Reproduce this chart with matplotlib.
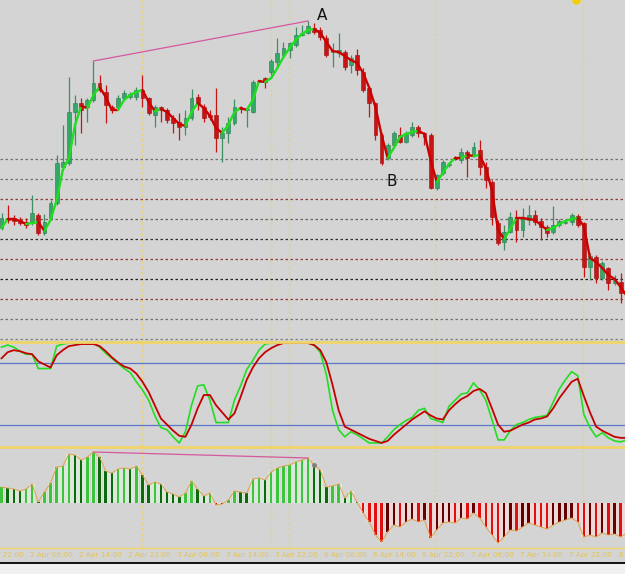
import numpy as np
import matplotlib

matplotlib.use("Agg")
import matplotlib.pyplot as plt
from matplotlib.collections import LineCollection
from matplotlib.lines import Line2D
from matplotlib.patches import Rectangle
from matplotlib.transforms import blended_transform_factory

# Hourly candles read off the screenshot. Price values are chart levels measured
# down from the top edge of the price pane (so the price axis is inverted).
OPEN = [228, 218, 218, 220, 222, 223, 215, 233, 218, 203, 167, 163, 112, 103, 107, 100, 83, 92, 107, 107,
        98, 97, 97, 90, 98, 115, 107, 110, 118, 122, 127, 118, 97, 107, 115, 115, 138, 133, 123, 108,
        110, 112, 81, 78, 72, 62, 55, 50, 45, 35, 33, 28, 30, 38, 52, 53, 52, 65, 55, 72,
        88, 103, 135, 158, 145, 135, 142, 135, 127, 133, 135, 188, 173, 165, 158, 160, 152, 155, 150, 167,
        182, 223, 242, 232, 217, 230, 220, 215, 221, 227, 232, 225, 223, 222, 216, 223, 267, 257, 278, 268,
        283, 282, 293]
HIGH = [213, 205, 215, 217, 218, 195, 213, 214, 200, 155, 125, 77, 95, 98, 98, 61, 75, 85, 105, 95,
        90, 92, 87, 75, 97, 105, 106, 108, 115, 113, 110, 89, 94, 104, 110, 88, 127, 117, 99, 106,
        107, 80, 80, 77, 59, 38, 42, 42, 27, 25, 21, 23, 27, 35, 43, 33, 50, 55, 49, 68,
        87, 102, 133, 143, 131, 127, 131, 122, 125, 132, 133, 174, 160, 163, 156, 148, 150, 142, 140, 162,
        180, 220, 225, 212, 210, 208, 205, 210, 218, 225, 206, 219, 220, 213, 214, 222, 253, 255, 261, 267,
        275, 273, 283]
LOW = [230, 223, 225, 225, 228, 225, 235, 235, 220, 205, 168, 165, 145, 133, 122, 102, 92, 123, 113, 110,
       100, 99, 100, 107, 115, 127, 122, 123, 133, 140, 135, 120, 110, 122, 120, 152, 162, 143, 125, 113,
       127, 113, 82, 88, 75, 67, 57, 58, 47, 36, 34, 34, 40, 57, 67, 57, 70, 73, 75, 92,
       117, 140, 165, 160, 147, 143, 143, 137, 137, 145, 189, 190, 175, 167, 160, 163, 177, 157, 175, 188,
       225, 245, 250, 233, 242, 237, 225, 225, 240, 237, 234, 227, 224, 225, 227, 277, 280, 283, 280, 290,
       285, 303, 296]
CLOSE = [218, 220, 221, 223, 225, 213, 233, 222, 203, 163, 162, 112, 103, 110, 100, 83, 90, 105, 110, 98,
         93, 94, 90, 98, 113, 107, 110, 120, 123, 127, 118, 98, 103, 118, 117, 138, 133, 123, 107, 109,
         109, 82, 81, 82, 61, 53, 48, 43, 35, 33, 26, 32, 37, 55, 51, 50, 67, 58, 70, 90,
         103, 135, 163, 145, 133, 142, 133, 127, 133, 137, 188, 175, 162, 164, 159, 152, 158, 147, 167, 180,
         217, 243, 232, 217, 230, 218, 215, 222, 227, 233, 225, 221, 222, 215, 225, 267, 256, 278, 263, 283,
         280, 293, 286]
# smoothed moving average drawn over the candles
MA = [228, 219, 219, 221, 224, 223, 222, 231, 220, 200, 170, 158, 125, 106, 108, 95, 87, 97, 110, 110,
      100, 95, 92, 90, 102, 111, 109, 112, 118, 124, 126, 112, 103, 108, 116, 128, 133, 125, 112, 108,
      110, 100, 81, 82, 78, 68, 57, 48, 40, 34, 30, 29, 33, 42, 51, 52, 56, 60, 63, 73,
      88, 107, 135, 158, 148, 137, 134, 132, 131, 134, 160, 182, 173, 164, 158, 158, 155, 156, 155, 168,
      190, 230, 239, 229, 218, 218, 219, 220, 225, 230, 228, 224, 221, 219, 218, 226, 258, 262, 268, 275,
      279, 287, 296]
# stochastic %K / %D (0-100)
STOCH_K = [96, 98, 96, 92, 89, 89, 75, 75, 75, 97, 99, 100, 100, 100, 100, 100, 96, 90, 85, 80,
           75, 71, 62, 54, 44, 29, 17, 15, 8, 2, 13, 39, 58, 59, 44, 22, 22, 22, 44, 58,
           74, 83, 93, 99, 100, 100, 100, 100, 100, 100, 100, 98, 91, 69, 34, 15, 8, 13, 10, 6,
           2, 2, 2, 8, 15, 20, 24, 27, 34, 36, 26, 24, 22, 38, 44, 50, 51, 61, 54, 44,
           25, 5, 5, 14, 20, 22, 25, 27, 28, 29, 42, 55, 64, 72, 68, 30, 17, 8, 12, 7,
           4, 3, 5]
STOCH_D = [85, 91, 93, 92, 90, 89, 82, 79, 76, 88, 93, 97, 98, 99, 99, 99, 97, 92, 86, 81,
           77, 75, 70, 62, 52, 39, 26, 20, 14, 9, 8, 20, 36, 49, 49, 39, 32, 25, 31, 47,
           64, 76, 85, 91, 95, 98, 100, 100, 100, 100, 100, 98, 93, 81, 59, 34, 18, 15, 12, 9,
           6, 4, 2, 4, 10, 15, 20, 25, 29, 33, 29, 26, 25, 34, 40, 45, 48, 53, 55, 51,
           36, 20, 13, 14, 17, 20, 22, 25, 26, 28, 36, 46, 54, 62, 65, 48, 32, 18, 14, 11,
           8, 7, 7]
# histogram oscillator
HIST = [16, 15, 14, 12, 14, 19, 1, 11, 20, 36, 37, 49, 48, 43, 46, 51, 46, 32, 30, 34,
        35, 34, 37, 28, 18, 21, 19, 11, 9, 6, 10, 22, 14, 7, 10, -2, -1, 3, 12, 11,
        10, 24, 25, 23, 31, 35, 37, 38, 41, 43, 45, 38, 33, 16, 17, 19, 5, 12, 1, -10,
        -19, -32, -39, -29, -22, -24, -19, -16, -19, -17, -35, -27, -20, -19, -20, -15, -16, -10, -15, -24,
        -32, -40, -34, -27, -28, -24, -20, -22, -24, -26, -22, -19, -17, -15, -19, -34, -32, -34, -30, -32,
        -31, -34, -30]

TIME_LABELS = ["1 Apr 22:00", "2 Apr 06:00", "2 Apr 14:00", "2 Apr 22:00", "3 Apr 06:00",
               "3 Apr 14:00", "3 Apr 22:00", "6 Apr 06:00", "6 Apr 14:00", "6 Apr 22:00",
               "7 Apr 06:00", "7 Apr 14:00", "7 Apr 22:00", "8 Apr 06:00"]
LABEL_BARS = [-3, 5, 13, 21, 29, 37, 45, 53, 61, 69, 77, 85, 93, 101]

LEVELS = [159, 179, 199, 219, 239, 259, 279, 299, 319, 339]
LEVEL_COLORS = ["#707070", "#707070", "#8e3b3b", "#6a6060", "#303030",
                "#8e3b3b", "#202020", "#8e3b3b", "#707070", "#808080"]
VLINE_BARS = [22.9, 43.95, 46.9, 70.7, 94.85]  # yellow period separators
TREND_BARS = (15, 50)  # divergence line: price highs vs oscillator highs

W, H = 625, 574
BG = "#d4d4d4"
UP, DN = "#34a865", "#c81414"
MA_UP, MA_DN = "#20dd20", "#cc0000"
YELLOW = "#f0d468"
XLIM = (-0.245, 101.71)


def pane(fig, top, bottom):
    ax = fig.add_axes([0, 1 - bottom / H, 1, (bottom - top) / H])
    ax.set_facecolor("none")
    ax.set_xlim(*XLIM)
    ax.axis("off")
    for x in VLINE_BARS:
        ax.axvline(x, color="#e8d27a", lw=1.0, ls=(0, (2, 2)), zorder=0)
    return ax


fig = plt.figure(figsize=(W / 100, H / 100), dpi=100, facecolor=BG)

# --------------------------------------------------------------------------- #
# Price pane
# --------------------------------------------------------------------------- #
ax = pane(fig, 0, 341)
ax.set_ylim(341, 0)
for y, c in zip(LEVELS, LEVEL_COLORS):
    ax.axhline(y, color=c, lw=0.9, ls=(0, (2, 2)), zorder=1)

o, hi, lo, cl = map(np.array, (OPEN, HIGH, LOW, CLOSE))
idx = np.arange(len(o))
up = cl <= o
ax.vlines(idx, hi, lo, colors=np.where(up, "#3f8f62", DN), lw=0.9, zorder=2)
ax.bar(idx, np.maximum(np.abs(cl - o), 1.0), bottom=np.minimum(o, cl), width=0.62,
       color=np.where(up, UP, DN), edgecolor=np.where(up, "#2c7a50", "#a00e0e"),
       lw=0.4, zorder=3)

ma = np.array(MA, float)
segs = [[(i - 1, ma[i - 1]), (i, ma[i])] for i in range(1, len(ma))]
cols = [MA_UP if ma[i] < ma[i - 1] else MA_DN for i in range(1, len(ma))]
ax.add_collection(LineCollection(segs, colors=cols, linewidths=1.7,
                                 capstyle="round", zorder=4))

a, b = TREND_BARS
ax.plot([a, b], [HIGH[a], HIGH[b]], color="#d6589e", lw=0.9, zorder=5)
ax.text(52.3, 15, "A", fontsize=11, color="#111111", ha="center", va="center")
ax.text(63.6, 181, "B", fontsize=11, color="#111111", ha="center", va="center")
ax.plot([93.7], [0], "o", ms=5, color="#f5d000", zorder=6)

# --------------------------------------------------------------------------- #
# Stochastic pane
# --------------------------------------------------------------------------- #
ax_s = pane(fig, 341, 446)
ax_s.set_ylim(-1, 102)
for lvl in (80, 20):
    ax_s.axhline(lvl, color="#5a76c6", lw=0.9, zorder=1)
ax_s.plot(np.arange(len(STOCH_K)), STOCH_K, color="#22dd22", lw=1.2, zorder=2)
ax_s.plot(np.arange(len(STOCH_D)), STOCH_D, color="#c40000", lw=1.3, zorder=3)

# --------------------------------------------------------------------------- #
# Histogram pane
# --------------------------------------------------------------------------- #
ax_h = pane(fig, 446, 547)
ax_h.set_ylim(-44, 57)
hv = np.array(HIST, float)
hx = np.arange(len(hv))
rising = np.r_[True, hv[1:] >= hv[:-1]]
pale = np.where(hv >= 0, "#dde8dc", "#eed8d8")
strong = np.where(hv >= 0,
                  np.where(rising, "#3cc43c", "#0c6a0c"),
                  np.where(rising, "#650000", "#e01010"))
ax_h.bar(hx, hv, width=0.95, color=pale, zorder=1)
ax_h.bar(hx, hv, width=0.4, color=strong, zorder=2)
ax_h.plot(hx, hv, color="#e0a24a", lw=0.7, zorder=3)
ax_h.plot([a, b], [HIST[a], HIST[b]], color="#d6589e", lw=0.9, zorder=4)
ax_h.plot([51], [HIST[51]], "o", ms=2.5, color="#808080", zorder=5)

trans = blended_transform_factory(ax_h.transData, fig.transFigure)
for lab, bar in zip(TIME_LABELS, LABEL_BARS):
    ax_h.text(bar - 0.35, 1 - 555 / H, lab, transform=trans, fontsize=5.2,
              color="#e2c458", ha="left", va="center", clip_on=False)

# pane separators and footer
for ypx, lw in ((341.5, 2.0), (446.5, 2.0), (547.5, 1.0)):
    fig.add_artist(Line2D([0, 1], [1 - ypx / H] * 2, color=YELLOW, lw=lw))
fig.add_artist(Rectangle((0, 0), 1, 11 / H, facecolor="#f0f0f0", edgecolor="none"))
fig.add_artist(Line2D([0, 1], [11.5 / H] * 2, color="#000000", lw=1.3))

fig.savefig("out.png", dpi=100, facecolor=BG)
